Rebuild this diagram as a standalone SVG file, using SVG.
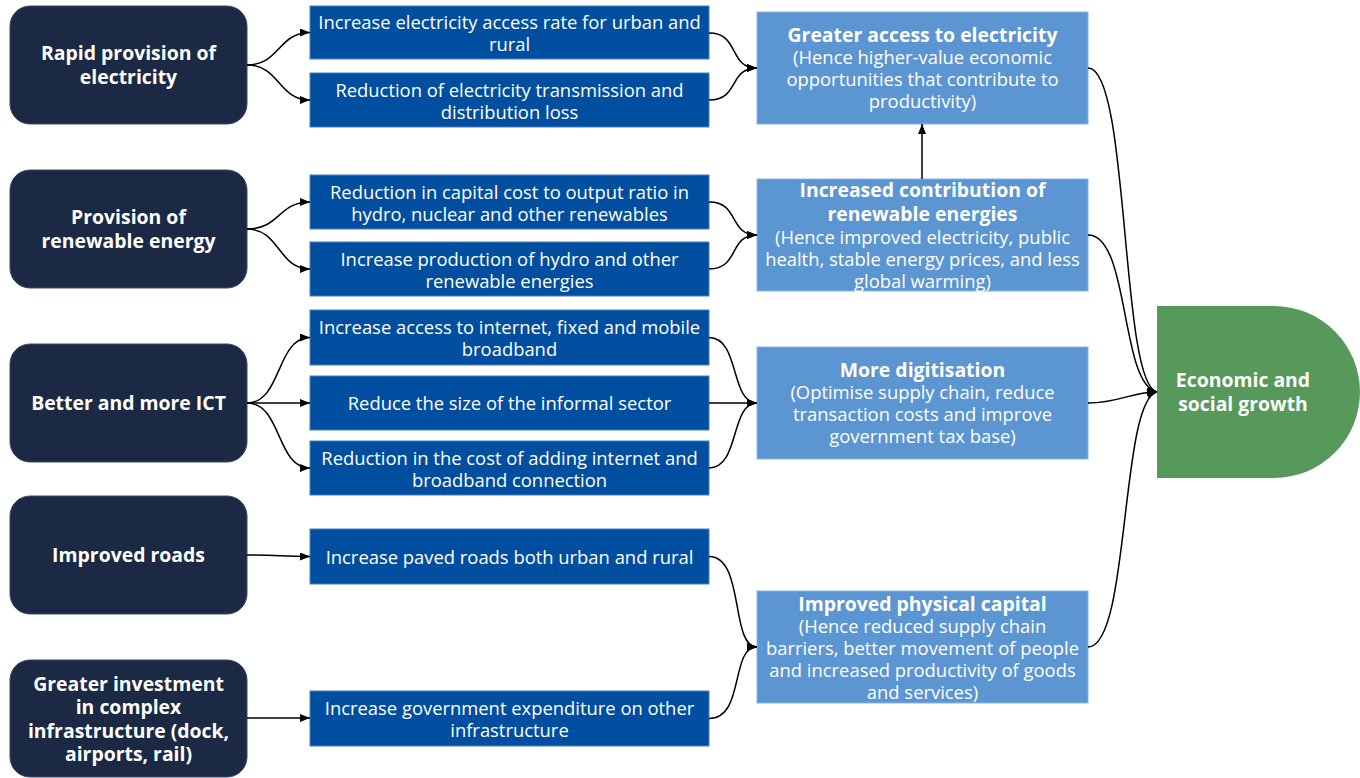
<svg xmlns="http://www.w3.org/2000/svg" width="1360" height="778" viewBox="0 0 1360 778">
<defs>
<marker id="arr" markerUnits="userSpaceOnUse" markerWidth="10" markerHeight="8" refX="10" refY="4" orient="auto"><path d="M0,0 L10,4 L0,8 z" fill="#000"/></marker>
<style>
.src{fill:#1b2944;stroke:#3a4a66;stroke-width:1}
.mid{fill:#004ea0;stroke:#4a7fc0;stroke-width:1}
.res{fill:#5b95d2;stroke:#8ab4e2;stroke-width:1}
.goal{fill:#56995a}
text{font-family:"Open Sans","Noto Sans","Liberation Sans",sans-serif;fill:#fff;text-anchor:middle}
.b{font-weight:700;font-size:19.4px}
.n{font-size:18.4px}
.c path{fill:none;stroke:#000;stroke-width:1.5;marker-end:url(#arr)}
</style>
</defs>
<rect width="1360" height="778" fill="#fff"/>
<g id="n-rapid"><rect class="src" x="10" y="6" width="237" height="118" rx="20"/><text class="b" x="128.5" y="60">Rapid provision of</text><text class="b" x="128.5" y="84">electricity</text></g>
<g id="n-renew"><rect class="src" x="10" y="170" width="237" height="118" rx="20"/><text class="b" x="128.5" y="224">Provision of</text><text class="b" x="128.5" y="248">renewable energy</text></g>
<g id="n-ict"><rect class="src" x="10" y="344" width="237" height="118" rx="20"/><text class="b" x="128.5" y="410">Better and more ICT</text></g>
<g id="n-roads"><rect class="src" x="10" y="496" width="237" height="118" rx="20"/><text class="b" x="128.5" y="562">Improved roads</text></g>
<g id="n-invest"><rect class="src" x="10" y="660" width="237" height="117" rx="20"/><text class="b" x="128.5" y="691">Greater investment</text><text class="b" x="128.5" y="714">in complex</text><text class="b" x="128.5" y="738">infrastructure (dock,</text><text class="b" x="128.5" y="761">airports, rail)</text></g>

<g id="m-access"><rect class="mid" x="310" y="6" width="399" height="53"/><text class="n" x="509.5" y="29">Increase electricity access rate for urban and</text><text class="n" x="509.5" y="51">rural</text></g>
<g id="m-loss"><rect class="mid" x="310" y="73" width="399" height="54"/><text class="n" x="509.5" y="97">Reduction of electricity transmission and</text><text class="n" x="509.5" y="119">distribution loss</text></g>
<g id="m-capcost"><rect class="mid" x="310" y="175" width="399" height="54"/><text class="n" x="509.5" y="199">Reduction in capital cost to output ratio in</text><text class="n" x="509.5" y="221">hydro, nuclear and other renewables</text></g>
<g id="m-prod"><rect class="mid" x="310" y="242" width="399" height="54"/><text class="n" x="509.5" y="266">Increase production of hydro and other</text><text class="n" x="509.5" y="288">renewable energies</text></g>
<g id="m-internet"><rect class="mid" x="310" y="310" width="399" height="55"/><text class="n" x="509.5" y="334">Increase access to internet, fixed and mobile</text><text class="n" x="509.5" y="356">broadband</text></g>
<g id="m-informal"><rect class="mid" x="310" y="376" width="399" height="54"/><text class="n" x="509.5" y="410">Reduce the size of the informal sector</text></g>
<g id="m-bbcost"><rect class="mid" x="310" y="441" width="399" height="54"/><text class="n" x="509.5" y="465">Reduction in the cost of adding internet and</text><text class="n" x="509.5" y="487">broadband connection</text></g>
<g id="m-paved"><rect class="mid" x="310" y="529" width="399" height="55"/><text class="n" x="509.5" y="564">Increase paved roads both urban and rural</text></g>
<g id="m-govexp"><rect class="mid" x="310" y="691" width="399" height="55"/><text class="n" x="509.5" y="715">Increase government expenditure on other</text><text class="n" x="509.5" y="737">infrastructure</text></g>

<g id="r-elec"><rect class="res" x="757" y="12" width="331" height="112"/><text class="b" x="922.5" y="42">Greater access to electricity</text><text class="n" x="922.5" y="64">(Hence higher-value economic</text><text class="n" x="922.5" y="86">opportunities that contribute to</text><text class="n" x="922.5" y="108">productivity)</text></g>
<g id="r-renew"><rect class="res" x="757" y="179" width="331" height="112"/><text class="b" x="922.5" y="197">Increased contribution of</text><text class="b" x="922.5" y="221">renewable energies</text><text class="n" x="922.5" y="244">(Hence improved electricity, public</text><text class="n" x="922.5" y="266">health, stable energy prices, and less</text><text class="n" x="922.5" y="288">global warming)</text></g>
<g id="r-digi"><rect class="res" x="757" y="347" width="331" height="112"/><text class="b" x="922.5" y="377">More digitisation</text><text class="n" x="922.5" y="399">(Optimise supply chain, reduce</text><text class="n" x="922.5" y="421">transaction costs and improve</text><text class="n" x="922.5" y="443">government tax base)</text></g>
<g id="r-phys"><rect class="res" x="757" y="591" width="331" height="112"/><text class="b" x="922.5" y="611">Improved physical capital</text><text class="n" x="922.5" y="633">(Hence reduced supply chain</text><text class="n" x="922.5" y="655">barriers, better movement of people</text><text class="n" x="922.5" y="677">and increased productivity of goods</text><text class="n" x="922.5" y="699">and services)</text></g>

<g id="goal"><path class="goal" d="M1157,306 H1274 A86,86 0 0 1 1274,478 H1157 Z"/><text class="b" x="1243" y="387">Economic and</text><text class="b" x="1243" y="411">social growth</text></g>

<g id="connectors" class="c">
<path d="M247,65 C280,65 278,32.5 310,32.5"/>
<path d="M247,65 C280,65 278,100 310,100"/>
<path d="M247,229 C280,229 278,202 310,202"/>
<path d="M247,229 C280,229 278,269 310,269"/>
<path d="M247,403 C282,403 276,337.5 310,337.5"/>
<path d="M247,403 L310,403"/>
<path d="M247,403 C282,403 276,468 310,468"/>
<path d="M247,555 C280,555 280,556.5 310,556.5"/>
<path d="M247,718 L310,718"/>
<path d="M709,33 C740,33 728,68 757,68"/>
<path d="M709,100 C740,100 728,68 757,68"/>
<path d="M709,202 C740,202 728,235 757,235"/>
<path d="M709,269 C740,269 728,235 757,235"/>
<path d="M709,337.5 C740,337.5 730,403 757,403"/>
<path d="M709,403 L757,403"/>
<path d="M709,468 C740,468 730,403 757,403"/>
<path d="M709,556.5 C745,556.5 730,647 757,647"/>
<path d="M709,718.5 C745,718.5 730,647 757,647"/>
<path d="M922,179 L922,124"/>
<path d="M1088,68 C1130,68 1120,385 1157,392"/>
<path d="M1088,235 C1130,235 1120,385 1157,392"/>
<path d="M1088,403 C1120,403 1130,392 1157,392"/>
<path d="M1088,647 C1130,647 1120,400 1157,392"/>
</g>
</svg>
